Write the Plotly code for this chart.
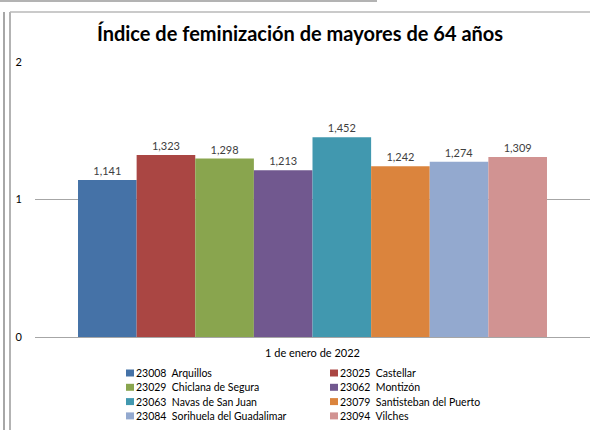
import plotly.graph_objects as go

# Feminisation index of the population over 64, by municipality
period = "1 de enero de 2022"
codes = ["23008", "23025", "23029", "23062", "23063", "23079", "23084", "23094"]
names = ["Arquillos", "Castellar", "Chiclana de Segura", "Montizón",
         "Navas de San Juan", "Santisteban del Puerto",
         "Sorihuela del Guadalimar", "Vilches"]
values = [1.141, 1.323, 1.298, 1.213, 1.452, 1.242, 1.274, 1.309]
colors = ["#4572A7", "#AA4643", "#89A54E", "#71588F",
          "#4198AF", "#DB843D", "#93A9CF", "#D19392"]
y_ticks = [0, 1, 2]

FONT = "Lato, Carlito, Calibri, sans-serif"
W, H = 590, 430
L, R, T, B = 35, 0, 62, 93
PW, PH = W - L - R, H - T - B


def px_x(px):
    return (px - L) / PW


def px_y(py):
    return (H - B - py) / PH


fig = go.Figure()
for code, name, val, col in zip(codes, names, values, colors):
    fig.add_trace(go.Bar(
        x=[period], y=[val], name=f"{code}\u00a0 {name}",
        marker=dict(color=col, line=dict(width=0)),
        text=[val], texttemplate="%{y:.3f}", textposition="outside",
        textfont=dict(family=FONT, size=11, color="#404040"),
        cliponaxis=False, showlegend=False,
    ))

shapes = []
annotations = []

# Legend: two columns, filled in row order
for i, (code, name, col) in enumerate(zip(codes, names, colors)):
    cx = 126 + (i % 2) * 204
    cy = 373 + (i // 2) * 14.3
    shapes.append(dict(type="rect", xref="paper", yref="paper",
                       x0=px_x(cx), x1=px_x(cx + 8),
                       y0=px_y(cy + 3.5), y1=px_y(cy - 3.5),
                       fillcolor=col, line=dict(width=0)))
    annotations.append(dict(xref="paper", yref="paper",
                            x=px_x(cx + 8), y=px_y(cy),
                            xanchor="left", yanchor="middle",
                            text=f"{code}\u00a0 {name}", showarrow=False,
                            font=dict(family=FONT, size=10.5, color="#000000")))

# Surrounding frame lines
frame = [
    (0, 1, 377, 1, "#9a9a9a"),
    (4, 12, 4, 430, "#8a8a8a"),
    (10, 12, 10, 430, "#9a9a9a"),
    (10, 12, 590, 12, "#b8b8b8"),
]
for x0, y0, x1, y1, c in frame:
    shapes.append(dict(type="line", xref="paper", yref="paper",
                       x0=px_x(x0), x1=px_x(x1), y0=px_y(y0), y1=px_y(y1),
                       line=dict(color=c, width=1.5)))

fig.update_layout(
    width=W, height=H,
    margin=dict(l=L, r=R, t=T, b=B),
    paper_bgcolor="white", plot_bgcolor="white",
    separators=",.",
    barmode="group", bargap=0.155, bargroupgap=0,
    title=dict(text="<b>Índice de feminización de mayores de 64 años</b>",
               xref="container", yref="container",
               x=300 / W, y=1 - 34 / H, xanchor="center", yanchor="middle",
               font=dict(family=FONT, size=20, color="#000000")),
    xaxis=dict(showgrid=False, showline=False, zeroline=False, ticks="",
               ticklabelstandoff=8,
               tickfont=dict(family=FONT, size=11, color="#000000")),
    yaxis=dict(range=[0, 2], tickvals=y_ticks, showgrid=True,
               gridcolor="#a6a6a6", gridwidth=1, zeroline=True,
               zerolinecolor="#a6a6a6", zerolinewidth=1, showline=False,
               ticks="", ticklabelstandoff=12, fixedrange=True,
               tickfont=dict(family=FONT, size=11, color="#000000")),
    shapes=shapes, annotations=annotations,
    showlegend=False,
)

fig.write_html("out.html")
